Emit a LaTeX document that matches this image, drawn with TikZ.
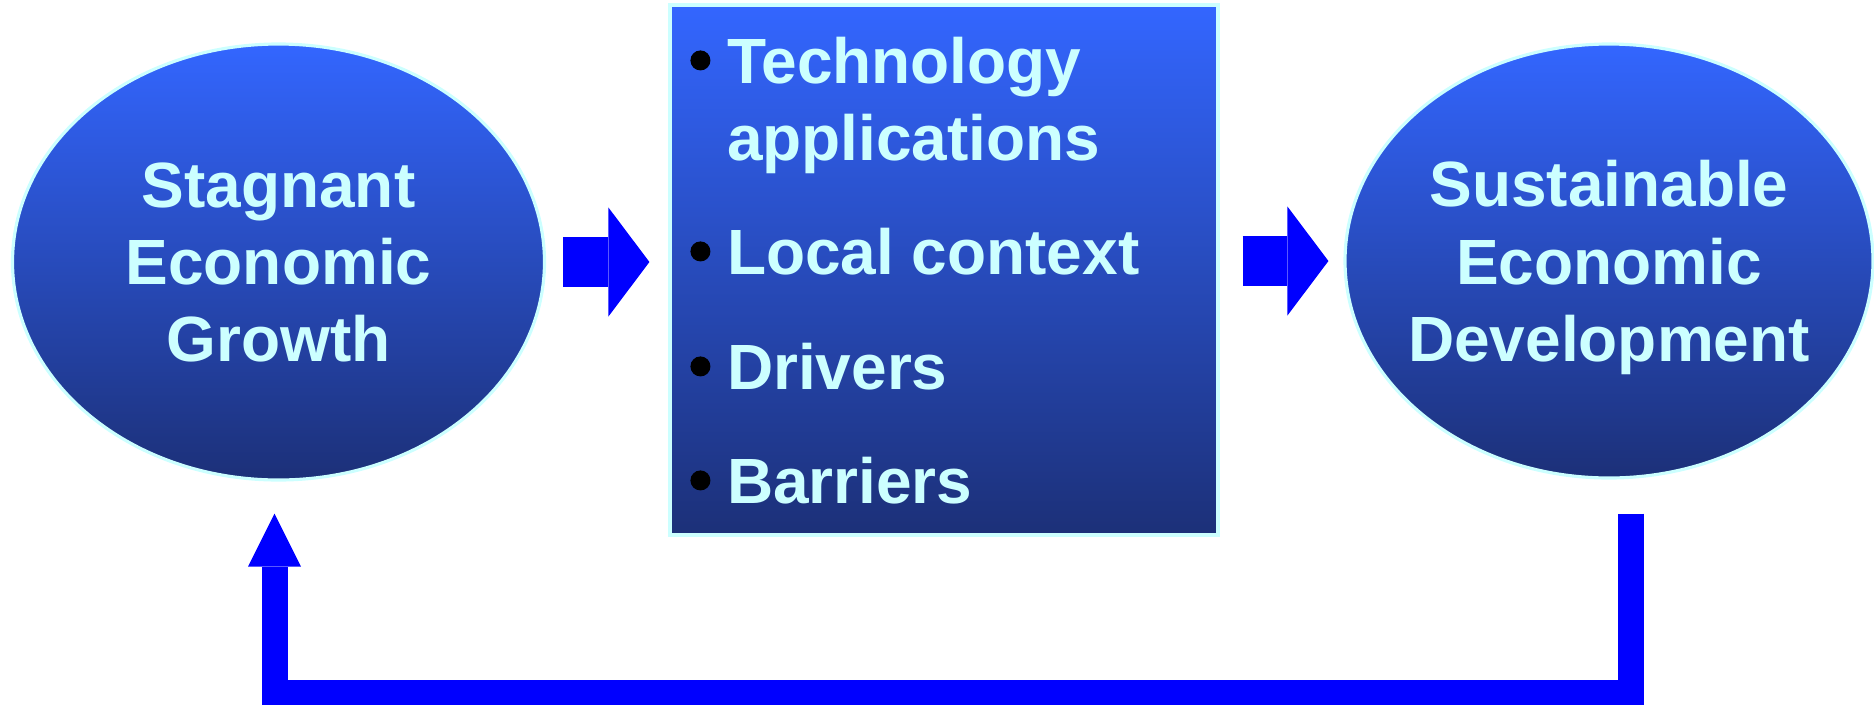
\documentclass[tikz,border=0pt]{standalone}
\usepackage{fontspec}
\setmainfont{Liberation Sans}
\usetikzlibrary{calc,shapes.geometric,arrows.meta}
\definecolor{topblue}{HTML}{3366FF}
\definecolor{botblue}{HTML}{1C3078}
\definecolor{palecyan}{HTML}{CCFFFF}
\definecolor{arrowblue}{HTML}{0000FF}

\begin{document}
\begin{tikzpicture}[
  font=\bfseries\fontsize{18.2}{22}\selectfont,
  blob/.style={ellipse, draw=palecyan, line width=0.9pt, top color=topblue, bottom color=botblue,
    text=palecyan, align=center, inner sep=-0.5cm, text depth=0pt},
  listbox/.style={rectangle, draw=palecyan, line width=0.9pt, top color=topblue, bottom color=botblue,
    minimum width=5.48cm, minimum height=5.3cm, inner sep=0pt},
  entry/.style={text=palecyan, align=left, inner sep=0pt, anchor=base west},
  fat/.style={draw=arrowblue, line width=0.5cm, -{Triangle[length=0.41cm, width=1.09cm, line width=0pt]}},
  back/.style={draw=arrowblue, line width=0.26cm, line join=miter, -{Triangle[length=0.53cm, width=0.53cm, line width=0pt]}}
]
\useasboundingbox (0,0) rectangle (18.74,-7.04);

% the two states
\node[blob, minimum width=5.32cm, minimum height=4.36cm] (stag) at (2.785,-2.62) {Stagnant\\Economic\\Growth};
\node[blob, minimum width=5.28cm, minimum height=4.34cm] (sust) at (16.09,-2.61) {Sustainable\\Economic\\Development};

% what sits in between
\node[listbox] (mid) at (9.44,-2.70) {};
\foreach \txt/\dy [count=\i] in {{Technology\\applications}/1.57, {Local context}/2.71, {Drivers}/3.86, {Barriers}/5.00}
{	\node[entry] (item\i) at ($(mid.north west)+(0.58,-\dy)$) {\txt};
}
\foreach \dy in {0.57,2.48,3.63,4.77}
{	\fill ($(mid.north west)+(0.32,-\dy)$) circle (0.1cm);
}

% block arrows
\draw[fat] ($(stag.east)+(0.17,0)$) -- ($(stag.east -| mid.west)+(-0.19,0)$);
\draw[fat] ($(mid.east |- sust.west)+(0.23,0)$) -- ($(sust.west)+(-0.15,0)$);

% feedback loop
\draw[back] ($(sust.south)+(0.22,-0.34)$) |- ($(stag.south)+(-0.04,-2.11)$) -- ($(stag.south)+(-0.04,-0.32)$);
\end{tikzpicture}
\end{document}
